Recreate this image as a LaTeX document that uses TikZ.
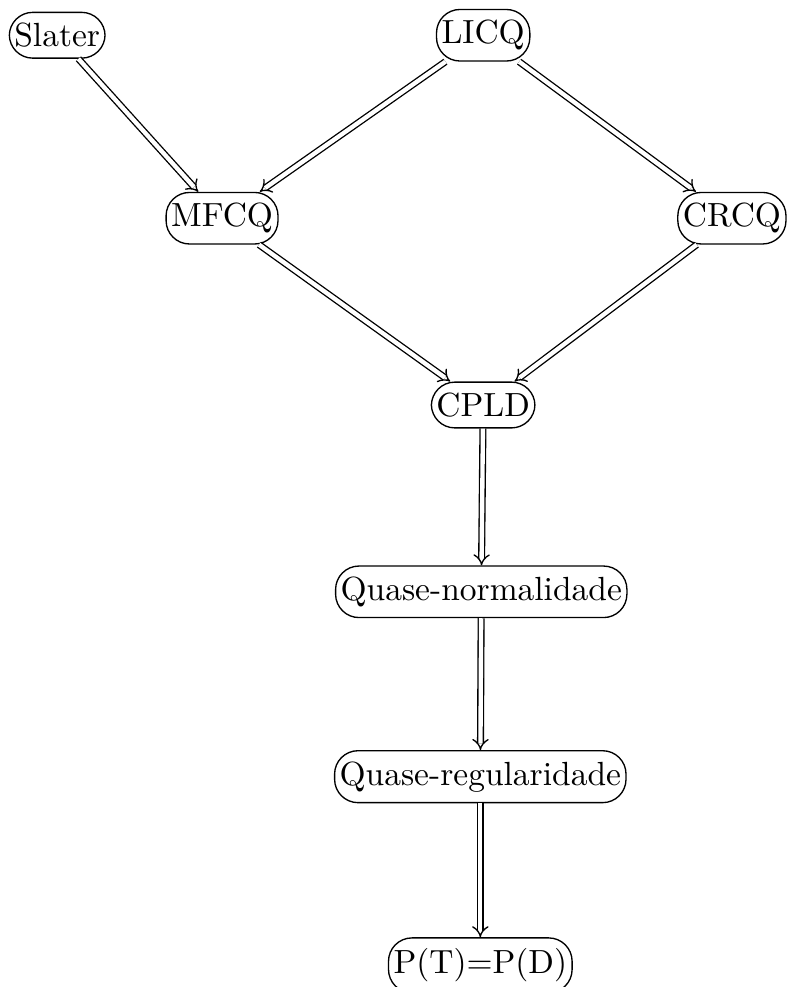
\documentclass[tikz,border=0pt]{standalone}
\usepackage{amsmath,amssymb}
\usepackage{tikz}
\usetikzlibrary{arrows,positioning}

\begin{document}
\begin{tikzpicture}
                    [
                        every node/.style={draw,rounded corners=7pt,inner xsep=1.5pt,inner ysep=3.2pt},
                        implica/.style={double,double distance=1.3pt,-implies,thin}
                    ]

                    % Rahmen
                    \useasboundingbox (0,0) rectangle (8.29,-10.357);

                    \node (slater) at (0.6,-0.37) {Slater};
                    \node (licq) at (5.07,-0.37) {LICQ};
                    \node (mfcq) at (2.33,-2.29) {MFCQ};
                    \node (crcq) at (7.68,-2.29) {CRCQ};
                    \node (cpld) at (5.07,-4.25) {CPLD};
                    \node (qnorm) at (5.05,-6.21) {Quase-normalidade};
                    \node (qreg) at (5.04,-8.15) {Quase-regularidade};
                    \node (pd) at (5.04,-10.13) {P(T)=P(D)};

                    \draw[implica] (slater) -- (mfcq);
                    \draw[implica] (licq) -- (mfcq);
                    \draw[implica] (licq) -- (crcq);
                    \draw[implica] (mfcq) -- (cpld);
                    \draw[implica] (crcq) -- (cpld);
                    \draw[implica] (cpld) -- (qnorm);
                    \draw[implica] (qnorm) -- (qreg);
                    \draw[implica] (qreg) -- (pd);
                \end{tikzpicture}
\end{document}
